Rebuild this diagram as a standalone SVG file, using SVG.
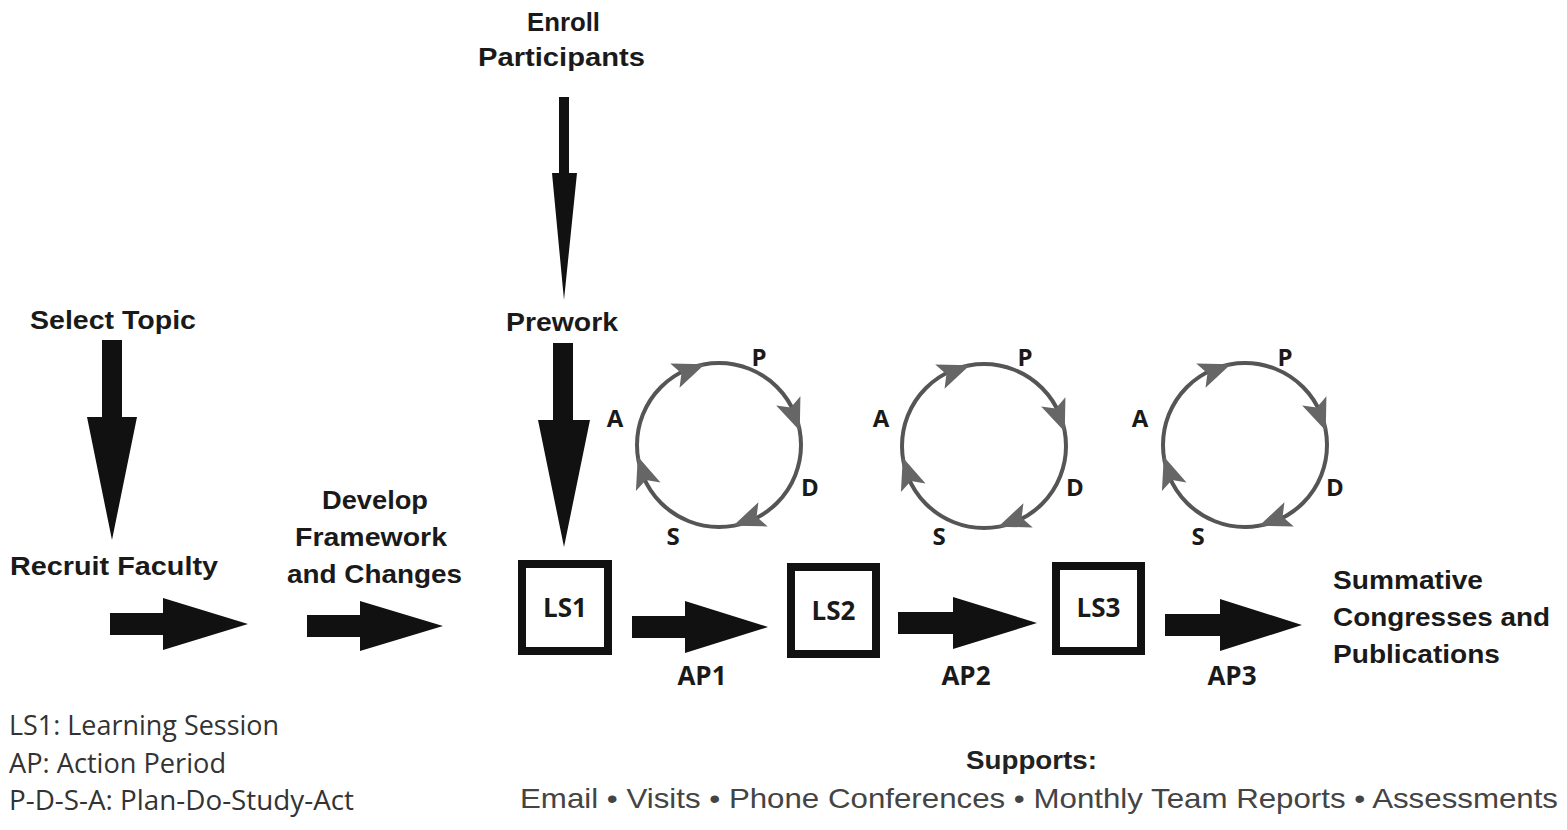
<svg xmlns="http://www.w3.org/2000/svg" xmlns:xlink="http://www.w3.org/1999/xlink" width="1567" height="830" viewBox="0 0 1567 830">
<style>
.h{font-family:"Liberation Sans",Arial,sans-serif;font-weight:bold;font-size:25px;fill:#1a1a1a}
.lbl{font-family:"Open Sans","Noto Sans",sans-serif;font-weight:700;fill:#1a1a1a}
.box{fill:#fff;stroke:#111;stroke-width:8}
.cyc{fill:none;stroke:#555;stroke-width:4}
.ah{fill:#666}
.arr{fill:#111}
.leg{font-family:"Open Sans","Noto Sans",sans-serif;font-size:27px;fill:#333}
.sup{font-family:"Liberation Sans",Arial,sans-serif;fill:#444}
</style>
<defs>
<path id="ah" d="M0,0 L-32,-13 L-25,0 L-32,13 Z"/>
</defs>
<rect width="1567" height="830" fill="#fff"/>

<g id="connectors">
<polygon class="arr" points="559,97 569,97 569,173 577,173 564,300 552,173 559,173"/>
<polygon class="arr" points="102,340 122,340 122,417 137,417 112,540 87,417 102,417"/>
<polygon class="arr" points="553,343 573,343 573,420 590,420 564,547 538,420 553,420"/>
<polygon class="arr" points="110,613 163,613 163,598 248,624 163,650 163,635 110,635"/>
<polygon class="arr" points="307,615 360,615 360,601 443,626 360,651 360,637 307,637"/>
<polygon class="arr" points="632,616 685,616 685,601 768,627 685,653 685,638 632,638"/>
<polygon class="arr" points="898,612 953,612 953,597 1037,623 953,649 953,634 898,634"/>
<polygon class="arr" points="1165,614 1220,614 1220,599 1302,625 1220,651 1220,636 1165,636"/>
</g>

<g id="enroll"><text class="h" x="527" y="31" textLength="73" lengthAdjust="spacingAndGlyphs">Enroll</text><text class="h" x="478" y="66" textLength="167" lengthAdjust="spacingAndGlyphs">Participants</text></g>
<g id="select-topic"><text class="h" x="30" y="329" textLength="166" lengthAdjust="spacingAndGlyphs">Select Topic</text></g>
<g id="prework"><text class="h" x="506" y="331" textLength="112" lengthAdjust="spacingAndGlyphs">Prework</text></g>
<g id="recruit-faculty"><text class="h" x="10" y="575" textLength="208" lengthAdjust="spacingAndGlyphs">Recruit Faculty</text></g>
<g id="develop"><text class="h" x="322" y="509" textLength="106" lengthAdjust="spacingAndGlyphs">Develop</text><text class="h" x="295" y="546" textLength="152" lengthAdjust="spacingAndGlyphs">Framework</text><text class="h" x="287" y="583" textLength="175" lengthAdjust="spacingAndGlyphs">and Changes</text></g>
<g id="summative"><text class="h" x="1333" y="589" textLength="150" lengthAdjust="spacingAndGlyphs">Summative</text><text class="h" x="1333" y="626" textLength="217" lengthAdjust="spacingAndGlyphs">Congresses and</text><text class="h" x="1333" y="663" textLength="167" lengthAdjust="spacingAndGlyphs">Publications</text></g>

<g id="ls1"><rect class="box" x="522" y="564" width="86" height="87"/><text class="lbl" x="565" y="617" font-size="26" font-weight="600" text-anchor="middle">LS1</text></g>
<g id="ls2"><rect class="box" x="791" y="567" width="85" height="87"/><text class="lbl" x="833.5" y="620" font-size="26" font-weight="600" text-anchor="middle">LS2</text></g>
<g id="ls3"><rect class="box" x="1056" y="566" width="85" height="85"/><text class="lbl" x="1098.5" y="617" font-size="26" font-weight="600" text-anchor="middle">LS3</text></g>

<g id="ap-labels">
<text class="lbl" x="702" y="685" font-size="26" text-anchor="middle">AP1</text>
<text class="lbl" x="966" y="685" font-size="26" text-anchor="middle">AP2</text>
<text class="lbl" x="1232" y="685" font-size="26" text-anchor="middle">AP3</text>
</g>

<g id="pdsa1">
<circle class="cyc" cx="719" cy="445" r="82"/>
<use href="#ah" class="ah" transform="translate(719,445) rotate(-100) translate(82,0) rotate(79)"/>
<use href="#ah" class="ah" transform="translate(719,445) rotate(-10) translate(82,0) rotate(79)"/>
<use href="#ah" class="ah" transform="translate(719,445) rotate(80) translate(82,0) rotate(79)"/>
<use href="#ah" class="ah" transform="translate(719,445) rotate(172) translate(82,0) rotate(79)"/>
<text class="lbl" font-size="24" text-anchor="middle" x="759" y="366">P</text>
<text class="lbl" font-size="24" text-anchor="middle" x="615" y="427">A</text>
<text class="lbl" font-size="24" text-anchor="middle" x="810" y="496">D</text>
<text class="lbl" font-size="24" text-anchor="middle" x="673" y="545">S</text>
</g>
<g id="pdsa2">
<circle class="cyc" cx="984" cy="446" r="82"/>
<use href="#ah" class="ah" transform="translate(984,446) rotate(-100) translate(82,0) rotate(79)"/>
<use href="#ah" class="ah" transform="translate(984,446) rotate(-10) translate(82,0) rotate(79)"/>
<use href="#ah" class="ah" transform="translate(984,446) rotate(80) translate(82,0) rotate(79)"/>
<use href="#ah" class="ah" transform="translate(984,446) rotate(172) translate(82,0) rotate(79)"/>
<text class="lbl" font-size="24" text-anchor="middle" x="1025" y="366">P</text>
<text class="lbl" font-size="24" text-anchor="middle" x="881" y="427">A</text>
<text class="lbl" font-size="24" text-anchor="middle" x="1075" y="496">D</text>
<text class="lbl" font-size="24" text-anchor="middle" x="939" y="545">S</text>
</g>
<g id="pdsa3">
<circle class="cyc" cx="1245" cy="445" r="82"/>
<use href="#ah" class="ah" transform="translate(1245,445) rotate(-100) translate(82,0) rotate(79)"/>
<use href="#ah" class="ah" transform="translate(1245,445) rotate(-10) translate(82,0) rotate(79)"/>
<use href="#ah" class="ah" transform="translate(1245,445) rotate(80) translate(82,0) rotate(79)"/>
<use href="#ah" class="ah" transform="translate(1245,445) rotate(172) translate(82,0) rotate(79)"/>
<text class="lbl" font-size="24" text-anchor="middle" x="1285" y="366">P</text>
<text class="lbl" font-size="24" text-anchor="middle" x="1140" y="427">A</text>
<text class="lbl" font-size="24" text-anchor="middle" x="1335" y="496">D</text>
<text class="lbl" font-size="24" text-anchor="middle" x="1198" y="545">S</text>
</g>

<g id="legend">
<text class="leg" x="9" y="735" textLength="270" lengthAdjust="spacingAndGlyphs">LS1: Learning Session</text>
<text class="leg" x="9" y="773" textLength="217" lengthAdjust="spacingAndGlyphs">AP: Action Period</text>
<text class="leg" x="9" y="810" textLength="345" lengthAdjust="spacingAndGlyphs">P-D-S-A: Plan-Do-Study-Act</text>
</g>

<g id="supports">
<text class="sup" x="966" y="769" font-size="26" font-weight="bold" textLength="131" lengthAdjust="spacingAndGlyphs" style="fill:#222">Supports:</text>
<text class="sup" x="520" y="808" font-size="28" textLength="1038" lengthAdjust="spacingAndGlyphs">Email • Visits • Phone Conferences • Monthly Team Reports • Assessments</text>
</g>
</svg>
